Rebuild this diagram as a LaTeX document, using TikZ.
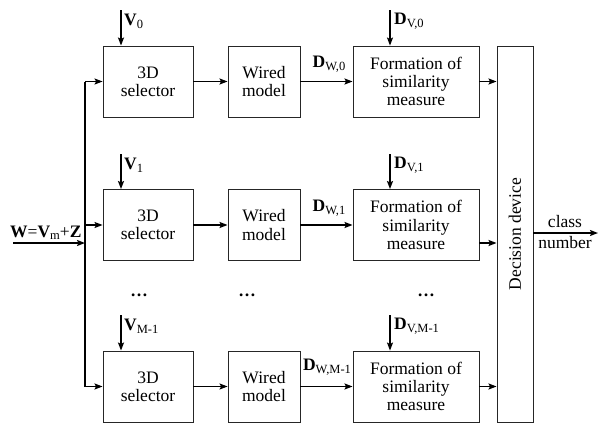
\documentclass[tikz,border=0pt]{standalone}
\usepackage{fontspec}
\setmainfont{Liberation Serif}
\usetikzlibrary{arrows.meta}
\newcommand\sym[2]{\textbf{#1}\raisebox{-0.35ex}{\fontsize{12.5}{12.5}\selectfont #2}}
\begin{document}
\begin{tikzpicture}[x=1pt,y=-1pt,
  font=\fontsize{17.5}{18.3}\selectfont,
  blk/.style={draw=black!85, line width=0.9pt, align=center, inner sep=0pt,
              minimum height=71pt},
  selbox/.style={blk, minimum width=90pt},
  wirbox/.style={blk, minimum width=72pt},
  formbox/.style={blk, minimum width=126pt},
  tip/.style={-{Stealth[length=8pt,width=6pt,inset=1.5pt]}},
  fat/.style={tip, line width=1.7pt},
  slim/.style={tip, line width=1.2pt},
  bus/.style={line width=1.3pt},
  lbl/.style={inner sep=0pt}
]
\useasboundingbox (0,0) rectangle (598,423);

% the three processing rows
\node[selbox]  (sel0) at (148,81.5) {3D\\selector};
\node[wirbox]  (wir0) at (264,81.5) {Wired\\model};
\node[formbox] (for0) at (416,81.5) {Formation of\\similarity\\measure};

\node[selbox]  (sel1) at (148,225) {3D\\selector};
\node[wirbox]  (wir1) at (264,225) {Wired\\model};
\node[formbox] (for1) at (416,225) {Formation of\\similarity\\measure};

\node[selbox]  (sel2) at (148,386.5) {3D\\selector};
\node[wirbox]  (wir2) at (264,386.5) {Wired\\model};
\node[formbox] (for2) at (416,386.5) {Formation of\\similarity\\measure};

% decision device
\node[blk, minimum width=36pt, minimum height=376pt] (dec) at (515,234) {};
\node[rotate=90] (dectext) at (dec.center) {Decision device};

% ellipsis between rows
\node (dots0) at (139,295) {\textbf{\dots}};
\node (dots1) at (247,295) {\textbf{\dots}};
\node (dots2) at (426,295) {\textbf{\dots}};

% reference inputs
\coordinate (v0) at (121,10);
\coordinate (v1) at (121,154);
\coordinate (v2) at (121,315);
\coordinate (dv0) at (390,10);
\coordinate (dv1) at (390,154);
\coordinate (dv2) at (390,315);
\draw[fat] (v0) -- (v0 |- sel0.north);
\draw[fat] (v1) -- (v1 |- sel1.north);
\draw[fat] (v2) -- (v2 |- sel2.north);
\draw[slim] (dv0) -- (dv0 |- for0.north);
\draw[fat] (dv1) -- (dv1 |- for1.north);
\draw[slim] (dv2) -- (dv2 |- for2.north);

\node[lbl, anchor=west] (lv0) at (124,21) {\sym{V}{0}};
\node[lbl, anchor=west] (lv1) at (124,165) {\sym{V}{1}};
\node[lbl, anchor=west] (lv2) at (124,326) {\sym{V}{M-1}};
\node[lbl, anchor=west] (ldv0) at (394,21) {\sym{D}{V,0}};
\node[lbl, anchor=west] (ldv1) at (394,165) {\sym{D}{V,1}};
\node[lbl, anchor=west] (ldv2) at (394,326) {\sym{D}{V,M-1}};

% input bus
\coordinate (bus0) at (85,81.5);
\coordinate (bus1) at (85,225);
\coordinate (bus2) at (85,386.5);
\coordinate (busw) at (85,243);
\coordinate (win) at (13,243);
\draw[bus] (bus0) -- (bus2);
\draw[slim] (bus0) -- (sel0.west);
\draw[slim] (bus1) -- (sel1.west);
\draw[fat] (bus2) -- (sel2.west);
\draw[fat] (win) -- (busw);
\node[lbl, anchor=base west] (lw) at (10,237) {\textbf{W}=\sym{V}{m}+\textbf{Z}};

% row connections
\draw[fat] (sel0) -- (wir0);
\draw[fat] (sel1) -- (wir1);
\draw[slim] (sel2) -- (wir2);
\draw[fat] (wir0) -- (for0);
\draw[fat] (wir1) -- (for1);
\draw[fat] (wir2) -- (for2);
\node[lbl] (ldw0) at (329,64) {\sym{D}{W,0}};
\node[lbl] (ldw1) at (329,208) {\sym{D}{W,1}};
\node[lbl] (ldw2) at (327,367) {\sym{D}{W,M-1}};

\coordinate (f1out) at (479,243);
\draw[fat] (for0.east) -- (for0.east -| dec.west);
\draw[fat] (f1out) -- (f1out -| dec.west);
\draw[fat] (for2.east) -- (for2.east -| dec.west);

% output
\coordinate (out) at (598,233);
\draw[fat] (dec.east |- out) -- (out);
\node (lclass) at (565,222) {class};
\node (lnum) at (565,243) {number};
\end{tikzpicture}
\end{document}
